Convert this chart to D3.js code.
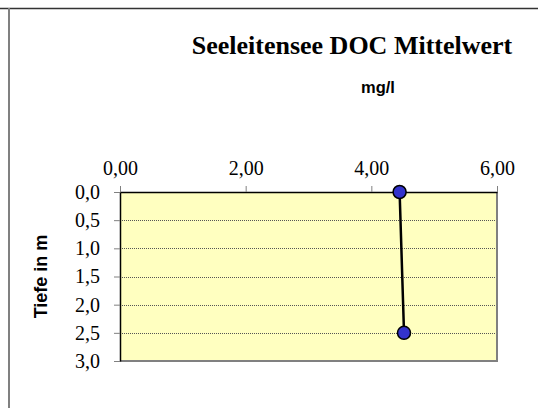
<!DOCTYPE html>
<html>
<head>
<meta charset="utf-8">
<script src="https://cdn.jsdelivr.net/npm/d3@7"></script>
<style>
  body { margin: 0; background: #fff; }
  svg { display: block; }
  .tick text { font-family: "Liberation Serif", "Times New Roman", serif; font-size: 20px; fill: #000; }
</style>
</head>
<body>
<div id="chart"></div>
<script>
// DOC mean value per depth
const depths = [0, 2.5];
const docValues = [4.45, 4.52];
const xTickValues = [0, 2, 4, 6];
const yTickValues = [0, 0.5, 1, 1.5, 2, 2.5, 3];

const W = 538, H = 408;
const margin = { top: 192, right: 41, bottom: 47, left: 120 };
const width = W - margin.left - margin.right;
const height = H - margin.top - margin.bottom;

const de = d3.formatLocale({ decimal: ",", thousands: ".", grouping: [3], currency: ["", " €"] });

const root = d3.select("#chart").append("svg")
    .attr("width", W)
    .attr("height", H);

// outer frame (only top and left visible)
root.append("line")
    .attr("x1", 0).attr("x2", W)
    .attr("y1", 8.5).attr("y2", 8.5)
    .attr("stroke", "#333").attr("stroke-width", 1.5);
root.append("line")
    .attr("x1", 9).attr("x2", 9)
    .attr("y1", 8).attr("y2", H)
    .attr("stroke", "#808080").attr("stroke-width", 2);

const svg = root.append("g")
    .attr("transform", `translate(${margin.left},${margin.top})`);

const xScale = d3.scaleLinear().domain([0, 6]).range([0, width]);
const yScale = d3.scaleLinear().domain([0, 3]).range([0, height]);

// plot background
svg.append("rect")
    .attr("width", width)
    .attr("height", height)
    .attr("fill", "#ffffc0");

// gridlines
svg.append("g")
    .selectAll("line")
    .data(yTickValues.filter(d => d > 0 && d < 3))
    .enter()
    .append("line")
    .attr("x1", 0).attr("x2", width)
    .attr("y1", d => Math.round(yScale(d)) + 0.5)
    .attr("y2", d => Math.round(yScale(d)) + 0.5)
    .attr("stroke", "#555")
    .attr("stroke-width", 1)
    .attr("stroke-dasharray", "1,1");

// right and bottom edges (gray)
svg.append("path")
    .attr("d", `M${width},0 L${width},${height} L0,${height}`)
    .attr("fill", "none")
    .attr("stroke", "#808080")
    .attr("stroke-width", 2);

// x axis on top
const xAxis = d3.axisTop(xScale)
    .tickValues(xTickValues)
    .tickFormat(de.format(".2f"))
    .tickSizeInner(6)
    .tickSizeOuter(0)
    .tickPadding(11);

const xAxisDraw = svg.append("g")
    .attr("class", "x axis")
    .call(xAxis);
xAxisDraw.select(".domain").attr("stroke", "#000").attr("stroke-width", 1.5);
xAxisDraw.selectAll(".tick line").attr("stroke", "#808080");

// y axis
const yAxis = d3.axisLeft(yScale)
    .tickValues(yTickValues)
    .tickFormat(de.format(".1f"))
    .tickSizeInner(6)
    .tickSizeOuter(0)
    .tickPadding(14);

const yAxisDraw = svg.append("g")
    .attr("class", "y axis")
    .call(yAxis);
yAxisDraw.select(".domain").attr("stroke", "#000").attr("stroke-width", 1.5);
yAxisDraw.selectAll(".tick line").attr("stroke", "#808080");

// data line
const line = d3.line()
    .x((d, i) => xScale(docValues[i]))
    .y(d => yScale(d));

svg.append("path")
    .datum(depths)
    .attr("d", line)
    .attr("fill", "none")
    .attr("stroke", "#000")
    .attr("stroke-width", 2.5);

svg.append("g")
    .selectAll("circle")
    .data(depths)
    .enter()
    .append("circle")
    .attr("cx", (d, i) => xScale(docValues[i]))
    .attr("cy", d => yScale(d))
    .attr("r", 6.5)
    .attr("fill", "#3333cc")
    .attr("stroke", "#000")
    .attr("stroke-width", 1.5);

// titles
root.append("text")
    .attr("x", 352)
    .attr("y", 54)
    .attr("text-anchor", "middle")
    .style("font-family", "'Liberation Serif', 'Times New Roman', serif")
    .style("font-weight", "bold")
    .style("font-size", "26px")
    .text("Seeleitensee DOC Mittelwert");

root.append("text")
    .attr("x", 378)
    .attr("y", 93)
    .attr("text-anchor", "middle")
    .style("font-family", "'Liberation Sans', Arial, sans-serif")
    .style("font-weight", "bold")
    .style("font-size", "16.5px")
    .text("mg/l");

root.append("text")
    .attr("transform", `translate(47,${margin.top + height / 2}) rotate(-90)`)
    .attr("text-anchor", "middle")
    .style("font-family", "'Liberation Sans', Arial, sans-serif")
    .style("font-weight", "bold")
    .style("font-size", "18px")
    .text("Tiefe in m");
</script>
</body>
</html>
